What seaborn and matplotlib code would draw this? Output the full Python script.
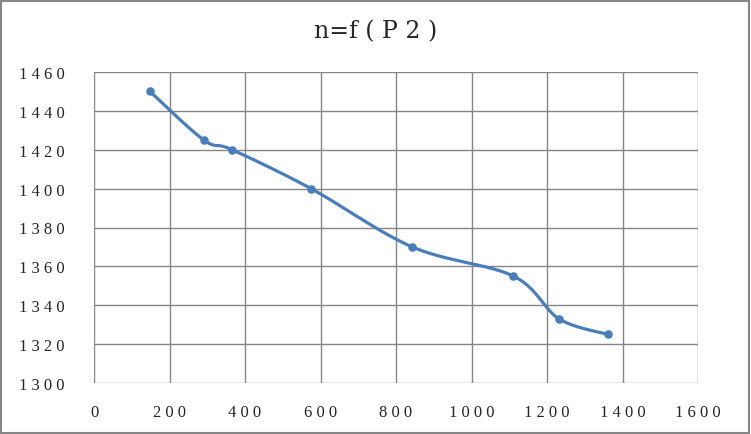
import numpy as np
import pandas as pd
import seaborn as sns
import matplotlib.pyplot as plt
from matplotlib.patches import Rectangle

# data
p2 = [148, 291, 366, 575, 843, 1111, 1232, 1362]
n = [1450, 1425, 1420, 1400, 1370, 1355, 1333, 1325]
x_ticks = [0, 200, 400, 600, 800, 1000, 1200, 1400, 1600]
y_ticks = [1300, 1320, 1340, 1360, 1380, 1400, 1420, 1440, 1460]
title = "n=f ( P 2 )"


def smooth(xs, ys, steps=30):
    # catmull-rom spline through the points, like Excel's smoothed line
    pts = np.column_stack([xs, ys]).astype(float)
    pts = np.vstack([pts[0], pts, pts[-1]])
    out = []
    t = np.linspace(0, 1, steps)[:, None]
    for i in range(1, len(pts) - 2):
        p0, p1, p2_, p3 = pts[i - 1], pts[i], pts[i + 1], pts[i + 2]
        seg = 0.5 * ((2 * p1) + (-p0 + p2_) * t + (2 * p0 - 5 * p1 + 4 * p2_ - p3) * t ** 2
                     + (-p0 + 3 * p1 - 3 * p2_ + p3) * t ** 3)
        out.append(seg if i == 1 else seg[1:])
    out = np.vstack(out)
    return out[:, 0], out[:, 1]


sns.set_theme(style="white")
plt.rcParams['font.family'] = ['Liberation Serif', 'DejaVu Serif']

df = pd.DataFrame({"P2": p2, "n": n})
sx, sy = smooth(df["P2"], df["n"])
curve = pd.DataFrame({"P2": sx, "n": sy})

fig = plt.figure(figsize=(7.51, 4.35), dpi=100)
ax = fig.add_axes([94 / 751, 1 - 384 / 435, 604 / 751, 311 / 435])

color = "#4A7EBB"
sns.lineplot(data=curve, x="P2", y="n", sort=False, color=color, lw=2.3, ax=ax)
sns.scatterplot(data=df, x="P2", y="n", color=color, s=38, edgecolor=color, linewidth=0, ax=ax, zorder=3)

ax.set_xlim(0, 1600)
ax.set_ylim(1300, 1460)
ax.set_xticks(x_ticks)
ax.set_yticks(y_ticks)
ax.set_xticklabels([" ".join(str(v)) for v in x_ticks], fontsize=12)
ax.set_yticklabels([" ".join(str(v)) for v in y_ticks], fontsize=12)
ax.tick_params(axis="x", length=0, pad=15)
ax.tick_params(axis="y", length=0, pad=21)
ax.grid(True, color="#868686", lw=1)
for s in ax.spines.values():
    s.set_visible(False)
ax.set_xlabel("")
ax.set_ylabel("")

fig.text(376 / 751, 1 - 32 / 435, title, ha="center", va="center", fontsize=17,
         family=["DejaVu Serif"])
fig.patches.append(Rectangle((1 / 751, 1 / 435), 748 / 751, 432 / 435, transform=fig.transFigure,
                             fill=False, edgecolor="#868686", lw=1.5))

fig.savefig("out.png", dpi=100)
